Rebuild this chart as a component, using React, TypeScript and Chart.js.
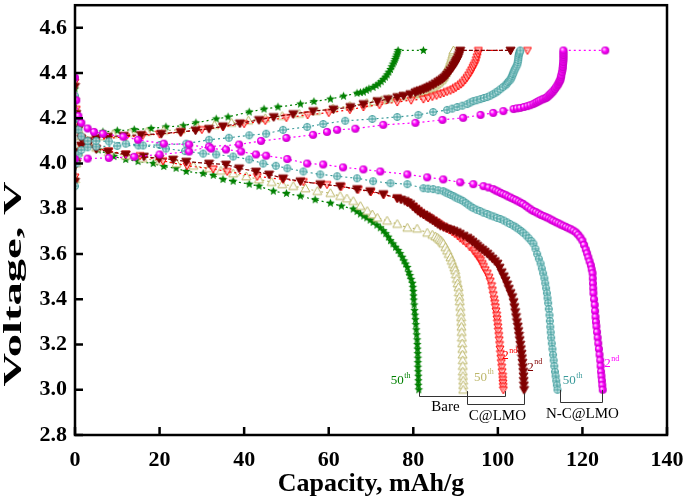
import React, { useEffect, useRef } from "react";
import { Chart, registerables } from "chart.js";
Chart.register(...registerables);

type P = [number, number];

const xTicks = [0, 20, 40, 60, 80, 100, 120, 140];
const yTicks = [2.8, 3.0, 3.2, 3.4, 3.6, 3.8, 4.0, 4.2, 4.4, 4.6];

// Bare, 50th cycle (green stars)
const bare50Charge: P[] = [[0,3.93],[0.3,4.02],[0.8,4.06],[1.5,4.08],[3,4.1],[6.6,4.14],[10,4.145],[14,4.15],[18,4.155],[21.5,4.162],[25.6,4.167],[28.6,4.18],[33.4,4.197],[36.2,4.206],[41.2,4.228],[44.7,4.241],[48,4.25],[53.3,4.263],[56.5,4.274],[60.4,4.285],[63.5,4.298],[66.7,4.311],[67.5,4.314],[68.2,4.316],[68.9,4.324],[69.5,4.33],[70.5,4.337],[71.2,4.345],[71.8,4.352],[72.4,4.362],[72.9,4.372],[73.4,4.382],[73.8,4.392],[74.2,4.404],[74.6,4.416],[74.9,4.428],[75.2,4.44],[75.5,4.45],[75.7,4.46],[75.9,4.47],[76.1,4.48],[76.3,4.49],[76.4,4.5],[82.4,4.5]];
const bare50Discharge: P[] = [[0,4.33],[0.3,4.22],[0.8,4.16],[1.5,4.12],[3,4.09],[5.5,4.06],[9.2,4.031],[12,4.018],[14.9,4.009],[18.5,4.0],[21,3.987],[23.9,3.979],[26.3,3.965],[30.3,3.956],[32.7,3.948],[35,3.93],[37.4,3.922],[41.2,3.909],[43.5,3.9],[46.9,3.878],[50,3.868],[53.3,3.856],[56.8,3.84],[60.4,3.825],[63,3.812],[65.8,3.799],[66.7,3.788],[67.5,3.777],[68.3,3.768],[69,3.76],[69.8,3.75],[70.5,3.74],[71.4,3.728],[72.2,3.716],[72.9,3.703],[73.5,3.69],[74.1,3.675],[74.6,3.659],[75.2,3.645],[75.8,3.63],[76.4,3.616],[76.9,3.602],[77.4,3.586],[77.8,3.57],[78.2,3.556],[78.6,3.541],[78.9,3.52],[79.2,3.505],[79.5,3.488],[79.8,3.471],[79.9,3.453],[80,3.435],[80.05,3.415],[80.1,3.397],[80.2,3.375],[80.3,3.35],[80.4,3.33],[80.5,3.31],[80.6,3.288],[80.7,3.265],[80.8,3.243],[80.9,3.221],[80.95,3.2],[81,3.18],[81.05,3.16],[81.1,3.14],[81.1,3.12],[81.1,3.1],[81.15,3.08],[81.2,3.06],[81.2,3.04],[81.2,3.02],[81.3,3.0]];

// Bare, 2nd cycle (red open down-triangles)
const bare2Charge: P[] = [[0,3.94],[0.3,4.01],[0.8,4.05],[1.5,4.075],[3,4.095],[5,4.105],[8,4.112],[12,4.118],[16,4.124],[20,4.13],[25,4.138],[30,4.15],[35,4.162],[40,4.176],[45,4.19],[50,4.203],[55,4.215],[60,4.225],[65,4.238],[68.2,4.25],[72,4.26],[76.2,4.272],[79.5,4.28],[82.4,4.285],[83.5,4.29],[84.5,4.296],[85.5,4.301],[86.4,4.307],[87.2,4.312],[88,4.318],[88.8,4.323],[89.5,4.329],[90.1,4.336],[90.7,4.343],[91.3,4.351],[91.8,4.359],[92.3,4.37],[92.7,4.38],[93.1,4.391],[93.5,4.403],[93.8,4.414],[94.1,4.425],[94.4,4.435],[94.7,4.446],[94.9,4.459],[95.1,4.472],[95.3,4.486],[95.4,4.5],[107,4.5]];
const bare2Discharge: P[] = [[0,4.36],[0.3,4.24],[0.8,4.16],[1.5,4.115],[3,4.085],[5,4.068],[8,4.055],[12,4.042],[15.4,4.035],[20.8,4.012],[26.5,3.99],[32.7,3.976],[36,3.965],[43.1,3.943],[49.2,3.93],[54,3.92],[59.6,3.907],[63,3.898],[67,3.885],[70,3.875],[73,3.862],[76.2,3.846],[78.5,3.83],[80,3.81],[80.6,3.8],[81.2,3.79],[81.8,3.781],[82.5,3.773],[83.2,3.765],[84,3.757],[84.8,3.748],[85.5,3.74],[86.2,3.731],[87,3.722],[87.7,3.714],[88.5,3.706],[89.2,3.698],[89.8,3.69],[90.5,3.68],[91.1,3.67],[91.8,3.659],[92.5,3.648],[93.3,3.632],[94.2,3.615],[94.7,3.603],[95.2,3.59],[95.6,3.58],[95.9,3.572],[96.3,3.558],[96.6,3.545],[97,3.53],[97.5,3.515],[97.9,3.497],[98.2,3.48],[98.5,3.46],[98.7,3.44],[98.9,3.42],[99.1,3.4],[99.25,3.383],[99.4,3.366],[99.55,3.348],[99.7,3.33],[99.8,3.313],[99.9,3.296],[100,3.278],[100.1,3.26],[100.2,3.24],[100.3,3.221],[100.4,3.2],[100.5,3.18],[100.6,3.16],[100.7,3.14],[100.8,3.12],[100.9,3.1],[101,3.08],[101.1,3.06],[101.15,3.045],[101.2,3.03],[101.25,3.015],[101.3,3.0]];

// C@LMO, 50th cycle (khaki open up-triangles)
const clmo50Charge: P[] = [[0,3.93],[0.3,4.0],[0.8,4.05],[1.5,4.08],[3,4.1],[6,4.12],[9,4.13],[13,4.135],[17,4.14],[21,4.145],[25,4.15],[29,4.16],[33,4.17],[37,4.18],[41,4.19],[45,4.2],[49,4.21],[53,4.22],[57,4.232],[61,4.244],[65,4.255],[69,4.268],[70.8,4.274],[72.5,4.28],[74.2,4.286],[76,4.292],[77.5,4.298],[79,4.303],[80,4.305],[80.6,4.307],[81.2,4.31],[81.8,4.314],[82.4,4.318],[83,4.322],[83.6,4.327],[84.2,4.332],[84.7,4.338],[85.1,4.344],[85.5,4.35],[85.9,4.356],[86.2,4.362],[86.6,4.368],[86.9,4.375],[87.2,4.382],[87.4,4.39],[87.7,4.4],[87.9,4.41],[88.1,4.419],[88.3,4.428],[88.5,4.437],[88.7,4.446],[88.9,4.455],[89,4.463],[89.15,4.472],[89.3,4.482],[89.4,4.491],[89.5,4.5]];
const clmo50Discharge: P[] = [[0,4.3],[0.3,4.2],[0.8,4.15],[1.5,4.12],[3,4.09],[5,4.07],[8,4.05],[12,4.035],[16,4.022],[20,4.012],[24,4.0],[28,3.99],[31.7,3.979],[34.5,3.968],[37.4,3.956],[40.5,3.943],[43.5,3.93],[46.5,3.918],[49,3.908],[51.6,3.9],[54.5,3.89],[57.3,3.878],[60.4,3.869],[62.7,3.856],[64.3,3.845],[65.8,3.834],[67.5,3.812],[69.1,3.79],[70.3,3.775],[71.5,3.76],[73.8,3.747],[76.2,3.733],[78.6,3.716],[80.9,3.712],[83.3,3.694],[84.5,3.685],[85.2,3.678],[85.7,3.672],[86.1,3.666],[86.5,3.66],[86.8,3.653],[87.1,3.646],[87.6,3.63],[88,3.615],[88.4,3.6],[88.8,3.585],[89.1,3.57],[89.4,3.555],[89.7,3.54],[89.9,3.528],[90.1,3.51],[90.3,3.49],[90.5,3.47],[90.7,3.453],[90.8,3.43],[90.9,3.41],[91,3.39],[91.1,3.366],[91.2,3.343],[91.3,3.32],[91.35,3.3],[91.4,3.278],[91.45,3.255],[91.5,3.23],[91.55,3.205],[91.6,3.18],[91.65,3.155],[91.7,3.13],[91.7,3.105],[91.7,3.08],[91.75,3.06],[91.8,3.04],[91.8,3.02],[91.8,3.0]];

// C@LMO, 2nd cycle (dark red filled down-triangles)
const clmo2Charge: P[] = [[0,3.92],[0.3,4.0],[0.8,4.05],[1.5,4.08],[3,4.1],[5,4.112],[7.8,4.119],[11.5,4.123],[15.6,4.127],[20.4,4.132],[25,4.14],[28.5,4.147],[31.7,4.154],[35,4.165],[39,4.178],[43.5,4.193],[47,4.206],[51.6,4.219],[56.3,4.232],[61.1,4.24],[65.1,4.25],[68.2,4.263],[71.5,4.276],[74,4.285],[76.2,4.294],[77.7,4.3],[79.3,4.307],[80.5,4.315],[81.1,4.32],[81.7,4.324],[82.4,4.328],[83,4.333],[83.5,4.337],[84,4.342],[84.7,4.348],[85.3,4.355],[85.9,4.362],[86.4,4.368],[86.9,4.374],[87.3,4.38],[87.7,4.387],[88,4.394],[88.4,4.403],[88.8,4.413],[89.2,4.423],[89.5,4.433],[89.8,4.44],[90,4.448],[90.2,4.454],[90.4,4.46],[90.6,4.47],[90.8,4.48],[91,4.49],[91.1,4.5],[103,4.5]];
const clmo2Discharge: P[] = [[0,4.34],[0.3,4.22],[0.8,4.15],[1.5,4.11],[3,4.08],[5,4.065],[7.8,4.053],[12,4.04],[16.3,4.031],[19.9,4.022],[23.2,4.018],[26.3,4.009],[31.7,4.0],[35.7,3.996],[38.8,3.979],[42.8,3.965],[45.9,3.952],[49.2,3.935],[53.3,3.922],[58,3.909],[62.7,3.9],[66.7,3.887],[69.8,3.878],[72.9,3.865],[76.2,3.847],[77.1,3.841],[78,3.835],[78.7,3.828],[79.3,3.821],[79.9,3.81],[80.5,3.8],[81.1,3.791],[81.7,3.782],[82.4,3.775],[83,3.768],[83.5,3.762],[84,3.755],[84.6,3.748],[85.2,3.74],[85.8,3.733],[86.4,3.725],[87.2,3.719],[88,3.713],[88.8,3.708],[89.5,3.703],[90.3,3.697],[91,3.69],[91.9,3.681],[92.8,3.672],[93.4,3.664],[94,3.655],[94.6,3.646],[95.1,3.637],[95.7,3.628],[96.3,3.62],[96.9,3.611],[97.5,3.602],[98.1,3.591],[98.7,3.58],[99.3,3.569],[99.9,3.558],[100.4,3.54],[100.9,3.52],[101.4,3.502],[101.8,3.484],[102.2,3.466],[102.6,3.447],[103,3.428],[103.4,3.41],[103.7,3.388],[103.9,3.366],[104.1,3.344],[104.3,3.322],[104.5,3.3],[104.7,3.28],[104.85,3.26],[105,3.24],[105.15,3.22],[105.3,3.2],[105.45,3.18],[105.6,3.16],[105.7,3.14],[105.8,3.12],[105.9,3.1],[106,3.08],[106.05,3.06],[106.1,3.04],[106.15,3.02],[106.2,3.0]];

// N-C@LMO, 50th cycle (teal circle-plus)
const nclmo50Charge: P[] = [[0,3.9],[0.3,4.0],[0.8,4.04],[1.5,4.06],[3,4.072],[5,4.075],[10,4.078],[15,4.08],[20,4.082],[26.3,4.088],[31.7,4.105],[36.4,4.114],[41.2,4.125],[45.2,4.132],[49.2,4.149],[54.9,4.162],[58.7,4.175],[63.9,4.189],[70.3,4.197],[76.2,4.206],[81.2,4.215],[84.7,4.228],[88,4.237],[89.2,4.243],[90.4,4.25],[91.6,4.256],[92.8,4.263],[93.5,4.27],[94.2,4.276],[95,4.28],[95.9,4.285],[96.7,4.29],[97.5,4.294],[98.2,4.3],[98.9,4.307],[99.5,4.314],[100,4.32],[100.6,4.329],[101.2,4.338],[101.8,4.346],[102.1,4.353],[102.4,4.36],[102.7,4.366],[103,4.372],[103.2,4.38],[103.4,4.388],[103.55,4.396],[103.7,4.403],[103.9,4.412],[104.1,4.42],[104.35,4.429],[104.6,4.438],[104.7,4.448],[104.8,4.458],[104.85,4.468],[104.9,4.477],[105,4.484],[105.1,4.49],[105.2,4.495],[105.3,4.5]];
const nclmo50Discharge: P[] = [[0,4.3],[0.3,4.2],[0.8,4.15],[1.5,4.12],[3,4.1],[5,4.1],[8,4.098],[12,4.088],[16.1,4.08],[21.5,4.066],[26,4.055],[30.3,4.044],[33.4,4.04],[37.4,4.031],[41.2,4.018],[44.5,4.0],[47.5,3.99],[50.2,3.979],[54,3.965],[58,3.952],[62,3.944],[66.7,3.935],[70.5,3.922],[74.6,3.913],[78.6,3.909],[82.4,3.891],[83.5,3.889],[84.7,3.887],[85.9,3.882],[87.1,3.878],[87.7,3.872],[88.3,3.867],[88.9,3.861],[89.5,3.856],[90,3.85],[90.6,3.845],[91.2,3.84],[91.8,3.834],[92.4,3.826],[93,3.818],[93.6,3.81],[94.2,3.803],[95,3.796],[95.8,3.79],[96.6,3.783],[97.5,3.777],[98.2,3.771],[99,3.766],[99.8,3.76],[100.6,3.755],[101.4,3.748],[102.2,3.74],[102.9,3.733],[103.7,3.725],[104.3,3.718],[104.9,3.71],[105.5,3.702],[106,3.694],[106.7,3.682],[107.3,3.67],[107.9,3.658],[108.4,3.646],[108.9,3.623],[109.3,3.6],[109.7,3.579],[110.1,3.558],[110.4,3.536],[110.7,3.515],[111,3.493],[111.2,3.471],[111.4,3.449],[111.6,3.427],[111.75,3.405],[111.9,3.383],[112.05,3.357],[112.2,3.33],[112.3,3.304],[112.4,3.278],[112.5,3.254],[112.6,3.23],[112.75,3.205],[112.9,3.18],[113.05,3.155],[113.2,3.13],[113.35,3.105],[113.5,3.08],[113.65,3.06],[113.8,3.04],[113.95,3.02],[114.1,3.0]];

// N-C@LMO, 2nd cycle (magenta balls)
const nclmo2Charge: P[] = [[0,4.02],[3,4.022],[8,4.025],[14,4.03],[20,4.04],[27,4.053],[31.7,4.075],[38.8,4.084],[44,4.1],[50,4.113],[56.3,4.127],[59.6,4.14],[62,4.149],[66.3,4.154],[72.9,4.171],[80.5,4.18],[86.9,4.193],[91.8,4.202],[95.9,4.215],[98.9,4.224],[101.3,4.232],[103.7,4.241],[104.5,4.244],[105.3,4.246],[106.2,4.25],[107,4.254],[107.7,4.258],[108.4,4.263],[108.9,4.268],[109.3,4.272],[109.7,4.276],[110.1,4.28],[110.6,4.284],[111,4.287],[111.4,4.29],[111.7,4.294],[112,4.3],[112.3,4.305],[112.6,4.31],[112.9,4.316],[113.2,4.323],[113.5,4.33],[113.8,4.338],[114.1,4.346],[114.3,4.353],[114.5,4.36],[114.65,4.366],[114.8,4.372],[114.9,4.381],[115,4.39],[115.15,4.403],[115.3,4.416],[115.35,4.427],[115.4,4.438],[115.45,4.449],[115.5,4.46],[115.5,4.47],[115.5,4.48],[115.5,4.49],[115.5,4.5],[125.4,4.5]];
const nclmo2Discharge: P[] = [[0,4.38],[0.3,4.28],[0.8,4.21],[1.5,4.18],[3,4.155],[4.5,4.14],[6.6,4.132],[11.4,4.119],[14.9,4.105],[21,4.088],[27,4.084],[32.2,4.066],[35.7,4.062],[39.3,4.053],[42.8,4.04],[45.2,4.035],[50.2,4.02],[54.9,4.0],[58.7,3.996],[63.4,3.983],[68.2,3.974],[72.2,3.965],[78.6,3.952],[83.3,3.939],[87.1,3.93],[91.1,3.917],[94.2,3.909],[96.6,3.9],[97.8,3.894],[98.9,3.887],[99.5,3.881],[100.1,3.876],[100.7,3.87],[101.3,3.865],[101.9,3.86],[102.5,3.854],[103.1,3.849],[103.7,3.843],[104.3,3.838],[104.9,3.832],[105.5,3.826],[106,3.821],[106.6,3.813],[107.2,3.805],[107.8,3.797],[108.4,3.79],[109,3.785],[109.6,3.779],[110.2,3.773],[110.8,3.768],[111.4,3.763],[112,3.758],[112.6,3.752],[113.1,3.747],[113.7,3.741],[114.3,3.736],[114.9,3.73],[115.5,3.725],[116.1,3.72],[116.7,3.714],[117.3,3.709],[117.9,3.703],[118.5,3.695],[119,3.685],[119.5,3.673],[120,3.659],[120.4,3.64],[120.8,3.62],[121.1,3.603],[121.4,3.585],[121.7,3.567],[122,3.55],[122.2,3.532],[122.4,3.515],[122.45,3.492],[122.5,3.47],[122.55,3.448],[122.6,3.427],[122.75,3.4],[122.9,3.375],[123,3.348],[123.1,3.322],[123.2,3.3],[123.3,3.28],[123.45,3.255],[123.6,3.23],[123.75,3.205],[123.9,3.18],[124.05,3.155],[124.2,3.13],[124.3,3.105],[124.4,3.08],[124.5,3.06],[124.6,3.04],[124.7,3.02],[124.8,3.0]];

const GREEN = "#008000";
const KHAKI = "#BDB76B";
const RED = "#FF0000";
const DARKRED = "#800000";
const TEAL = "#3A9A9A";
const MAGENTA = "#FF00FF";

const SERIF = '"Liberation Serif", "Times New Roman", serif';

function makeMarker(kind: string, color: string, size: number): HTMLCanvasElement {
  const s = size + 2;
  const c = document.createElement("canvas");
  c.width = s;
  c.height = s;
  const ctx = c.getContext("2d") as CanvasRenderingContext2D;
  const cx = s / 2, cy = s / 2, r = size / 2;
  ctx.lineWidth = 1;
  ctx.strokeStyle = color;
  ctx.fillStyle = color;
  if (kind === "star") {
    ctx.beginPath();
    for (let i = 0; i < 10; i++) {
      const a = -Math.PI / 2 + (i * Math.PI) / 5;
      const rr = i % 2 === 0 ? r : r * 0.45;
      ctx.lineTo(cx + rr * Math.cos(a), cy + rr * Math.sin(a));
    }
    ctx.closePath();
    ctx.fill();
  } else if (kind === "triUpOpen") {
    ctx.beginPath();
    ctx.moveTo(cx, cy - r);
    ctx.lineTo(cx + r, cy + r * 0.75);
    ctx.lineTo(cx - r, cy + r * 0.75);
    ctx.closePath();
    ctx.fillStyle = "rgba(255,255,255,0.9)";
    ctx.fill();
    ctx.stroke();
  } else if (kind === "triDownFilled" || kind === "triDownOpen") {
    ctx.beginPath();
    ctx.moveTo(cx, cy + r);
    ctx.lineTo(cx + r, cy - r * 0.75);
    ctx.lineTo(cx - r, cy - r * 0.75);
    ctx.closePath();
    if (kind === "triDownOpen") {
      ctx.fillStyle = "rgba(255,170,170,0.7)";
    }
    ctx.fill();
    ctx.stroke();
  } else if (kind === "circlePlus") {
    ctx.beginPath();
    ctx.arc(cx, cy, r - 0.5, 0, Math.PI * 2);
    ctx.fillStyle = "rgba(215,240,240,0.9)";
    ctx.fill();
    ctx.stroke();
    ctx.beginPath();
    ctx.moveTo(cx - r + 1, cy);
    ctx.lineTo(cx + r - 1, cy);
    ctx.moveTo(cx, cy - r + 1);
    ctx.lineTo(cx, cy + r - 1);
    ctx.stroke();
  } else if (kind === "ball") {
    const g = ctx.createRadialGradient(cx - r * 0.35, cy - r * 0.35, 0.5, cx, cy, r);
    g.addColorStop(0, "#FFD0FF");
    g.addColorStop(0.45, color);
    g.addColorStop(1, "#C000C0");
    ctx.beginPath();
    ctx.arc(cx, cy, r, 0, Math.PI * 2);
    ctx.fillStyle = g;
    ctx.fill();
  }
  return c;
}

const toXY = (arr: P[]) => arr.map(([x, y]) => ({ x, y }));

export default function App() {
  const ref = useRef<HTMLCanvasElement | null>(null);

  useEffect(() => {
    if (!ref.current) return;

    const series = [
      { charge: nclmo2Charge, discharge: nclmo2Discharge, color: MAGENTA, marker: makeMarker("ball", MAGENTA, 8), dash: [2, 3] },
      { charge: nclmo50Charge, discharge: nclmo50Discharge, color: TEAL, marker: makeMarker("circlePlus", TEAL, 8), dash: [2, 3] },
      { charge: clmo2Charge, discharge: clmo2Discharge, color: DARKRED, marker: makeMarker("triDownFilled", DARKRED, 9), dash: [4, 2] },
      { charge: bare2Charge, discharge: bare2Discharge, color: RED, marker: makeMarker("triDownOpen", RED, 8), dash: [2, 3] },
      { charge: clmo50Charge, discharge: clmo50Discharge, color: KHAKI, marker: makeMarker("triUpOpen", KHAKI, 9), dash: [2, 3] },
      { charge: bare50Charge, discharge: bare50Discharge, color: GREEN, marker: makeMarker("star", GREEN, 9), dash: [2, 3] },
    ];

    const datasets: any[] = [];
    series.forEach((s) => {
      [s.discharge, s.charge].forEach((d) => {
        datasets.push({
          data: toXY(d),
          showLine: true,
          borderColor: s.color,
          backgroundColor: s.color,
          borderWidth: 1.2,
          borderDash: s.dash,
          pointStyle: s.marker,
          pointRadius: 4,
          tension: 0,
        });
      });
    });

    const cycleLabels = [
      { main: "50", sup: "th", x: 76.2, y: 3.04, color: GREEN },
      { main: "50", sup: "th", x: 95.9, y: 3.055, color: KHAKI },
      { main: "2", sup: "nd", x: 101.8, y: 3.15, color: RED },
      { main: "2", sup: "nd", x: 107.7, y: 3.1, color: DARKRED },
      { main: "50", sup: "th", x: 116.9, y: 3.04, color: TEAL },
      { main: "2", sup: "nd", x: 125.9, y: 3.116, color: MAGENTA },
    ];
    const brackets = [
      { text: "Bare", x1: 81.3, x2: 101.6, y: 2.972, top1: 2.994, top2: 2.994, tx: 87.6, ty: 2.925 },
      { text: "C@LMO", x1: 92.8, x2: 106.3, y: 2.937, top1: 2.994, top2: 2.985, tx: 99.9, ty: 2.882 },
      { text: "N-C@LMO", x1: 114.7, x2: 124.7, y: 2.946, top1: 2.999, top2: 2.999, tx: 120.0, ty: 2.893 },
    ];

    const decor = {
      id: "decor",
      afterDatasetsDraw(chart: any) {
        const ctx = chart.ctx as CanvasRenderingContext2D;
        const xs = chart.scales.x;
        const ys = chart.scales.y;
        ctx.save();
        ctx.strokeStyle = "#333";
        ctx.lineWidth = 1;
        brackets.forEach((b) => {
          const x1 = Math.round(xs.getPixelForValue(b.x1)) + 0.5;
          const x2 = Math.round(xs.getPixelForValue(b.x2)) + 0.5;
          const yl = Math.round(ys.getPixelForValue(b.y)) + 0.5;
          ctx.beginPath();
          ctx.moveTo(x1, ys.getPixelForValue(b.top1));
          ctx.lineTo(x1, yl);
          ctx.lineTo(x2, yl);
          ctx.lineTo(x2, ys.getPixelForValue(b.top2));
          ctx.stroke();
          ctx.fillStyle = "#000";
          ctx.font = `15px ${SERIF}`;
          ctx.textAlign = "center";
          ctx.textBaseline = "middle";
          ctx.fillText(b.text, xs.getPixelForValue(b.tx), ys.getPixelForValue(b.ty));
        });
        cycleLabels.forEach((l) => {
          const px = xs.getPixelForValue(l.x);
          const py = ys.getPixelForValue(l.y);
          ctx.fillStyle = l.color;
          ctx.font = `13px ${SERIF}`;
          ctx.textAlign = "center";
          ctx.textBaseline = "middle";
          ctx.fillText(l.main, px, py);
          const w = ctx.measureText(l.main).width;
          ctx.font = `8px ${SERIF}`;
          ctx.textAlign = "left";
          ctx.fillText(l.sup, px + w / 2 + 0.5, py - 5);
        });
        ctx.restore();
      },
      afterDraw(chart: any) {
        const ctx = chart.ctx as CanvasRenderingContext2D;
        const a = chart.chartArea;
        const xs = chart.scales.x;
        const ys = chart.scales.y;
        ctx.save();
        ctx.strokeStyle = "#000";
        ctx.lineWidth = 2.5;
        ctx.beginPath();
        xTicks.forEach((v) => {
          const px = xs.getPixelForValue(v);
          ctx.moveTo(px, a.bottom);
          ctx.lineTo(px, a.bottom - 8);
        });
        yTicks.forEach((v) => {
          const py = ys.getPixelForValue(v);
          ctx.moveTo(a.left, py);
          ctx.lineTo(a.left + 8, py);
        });
        ctx.stroke();
        ctx.strokeRect(a.left, a.top, a.right - a.left, a.bottom - a.top);
        ctx.fillStyle = "#000";
        ctx.font = `bold 26px ${SERIF}`;
        ctx.textAlign = "center";
        ctx.textBaseline = "middle";
        ctx.fillText("Capacity, mAh/g", (a.left + a.right) / 2, 484);
        const yt = "Voltage, V";
        const w = ctx.measureText(yt).width;
        ctx.translate(14, 284);
        ctx.rotate(-Math.PI / 2);
        ctx.scale(205 / w, 1);
        ctx.fillText(yt, 0, 0);
        ctx.restore();
      },
    };

    const chart = new Chart(ref.current, {
      type: "scatter",
      data: { datasets },
      options: {
        animation: false,
        responsive: false,
        layout: { padding: { top: 2, right: 18, left: 0, bottom: 0 } },
        plugins: { legend: { display: false }, tooltip: { enabled: false } },
        scales: {
          x: {
            type: "linear",
            min: 0,
            max: 140,
            grid: { display: false, drawTicks: false },
            border: { display: false },
            afterBuildTicks: (axis: any) => {
              axis.ticks = xTicks.map((v) => ({ value: v }));
            },
            afterFit: (s: any) => {
              s.height = 69;
              s.paddingLeft = 0;
              s.paddingRight = 0;
            },
            ticks: {
              padding: 12,
              color: "#000",
              font: { family: SERIF, size: 22, weight: "bold" },
              callback: (v: any) => String(v),
            },
          },
          y: {
            type: "linear",
            min: 2.8,
            max: 4.7,
            grid: { display: false, drawTicks: false },
            border: { display: false },
            afterBuildTicks: (axis: any) => {
              axis.ticks = yTicks.map((v) => ({ value: v }));
            },
            afterFit: (s: any) => {
              s.width = 75;
              s.paddingTop = 0;
              s.paddingBottom = 0;
            },
            ticks: {
              padding: 8,
              color: "#000",
              font: { family: SERIF, size: 22, weight: "bold" },
              callback: (v: any) => Number(v).toFixed(1),
            },
          },
        },
      },
      plugins: [decor],
    } as any);

    return () => chart.destroy();
  }, []);

  return (
    <div style={{ position: "absolute", left: 0, top: 0, width: 685, height: 504, background: "#fff" }}>
      <canvas ref={ref} width={685} height={504} style={{ width: 685, height: 504, display: "block" }} />
    </div>
  );
}
